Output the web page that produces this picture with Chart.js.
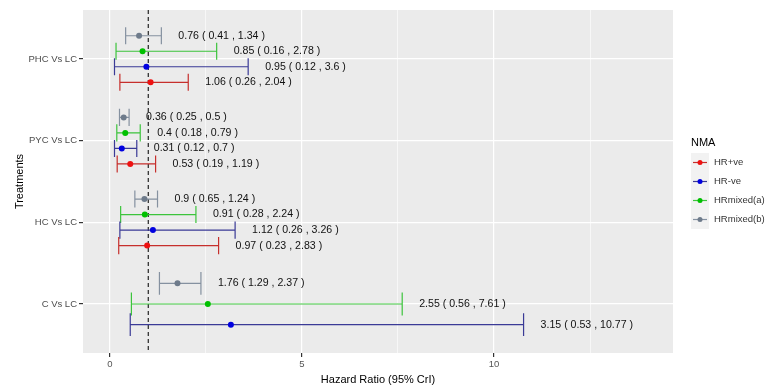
<!DOCTYPE html>
<html>
<head>
<meta charset="utf-8">
<script src="https://cdn.jsdelivr.net/npm/chart.js@4.4.1/dist/chart.umd.min.js"></script>
<style>
  html, body { margin: 0; padding: 0; background: #fff; }
  #wrap { width: 768px; height: 385px; position: relative; }
</style>
</head>
<body>
<div id="wrap"><canvas id="forest"></canvas></div>
<script>
// treatments, top to bottom
const categories = ['PHC Vs LC', 'PYC Vs LC', 'HC Vs LC', 'C Vs LC'];
const seriesNames = ['HR+ve', 'HR-ve', 'HRmixed(a)', 'HRmixed(b)'];

// hazard ratio with 95% CrI per treatment (null = not estimated)
const hrPosMean = [1.06, 0.53, 0.97, null];
const hrPosLow  = [0.26, 0.19, 0.23, null];
const hrPosHigh = [2.04, 1.19, 2.83, null];

const hrNegMean = [0.95, 0.31, 1.12, 3.15];
const hrNegLow  = [0.12, 0.12, 0.26, 0.53];
const hrNegHigh = [3.6, 0.7, 3.26, 10.77];

const mixedAMean = [0.85, 0.4, 0.91, 2.55];
const mixedALow  = [0.16, 0.18, 0.28, 0.56];
const mixedAHigh = [2.78, 0.79, 2.24, 7.61];

const mixedBMean = [0.76, 0.36, 0.9, 1.76];
const mixedBLow  = [0.41, 0.25, 0.65, 1.29];
const mixedBHigh = [1.34, 0.5, 1.24, 2.37];

const xTickLabels = [0, 5, 10];
const nullLine = 1;

const FONT = '"Liberation Sans", Arial, sans-serif';

const series = [
  { name: seriesNames[0], mean: hrPosMean, low: hrPosLow, high: hrPosHigh, line: '#c62f2c', dot: '#ee1111' },
  { name: seriesNames[1], mean: hrNegMean, low: hrNegLow, high: hrNegHigh, line: '#3a3a96', dot: '#0000e0' },
  { name: seriesNames[2], mean: mixedAMean, low: mixedALow, high: mixedAHigh, line: '#3cc43c', dot: '#00c000' },
  { name: seriesNames[3], mean: mixedBMean, low: mixedBLow, high: mixedBHigh, line: '#8591a0', dot: '#6e7b8b' },
];

// plotted top-down inside each group: mixed(b), mixed(a), -ve, +ve
const datasets = series.slice().reverse().map(s => ({
  label: s.name,
  data: categories.map((c, i) => ({ y: i, x: s.low[i] == null ? null : [s.low[i], s.high[i]] })),
  mean: s.mean,
  low: s.low,
  high: s.high,
  lineColor: s.line,
  dotColor: s.dot,
  backgroundColor: 'rgba(0,0,0,0)',
  borderWidth: 0,
  skipNull: true,
  categoryPercentage: 0.76,
  barPercentage: 1,
}));

// keep only ticks on a regular step inside the current range
function stepTicks(scale, step) {
  const out = [];
  for (let k = Math.ceil(scale.min / step); k * step <= scale.max + 1e-9; k++) {
    out.push({ value: k * step });
  }
  scale.ticks = out;
}

const forestPlugin = {
  id: 'forest',
  beforeDraw(chart) {
    const { ctx, chartArea: a } = chart;
    ctx.save();
    ctx.fillStyle = '#ebebeb';
    ctx.fillRect(a.left, a.top, a.right - a.left, a.bottom - a.top);
    ctx.restore();
  },
  beforeDatasetsDraw(chart) {
    const { ctx, chartArea: a, scales } = chart;
    const px = scales.x.getPixelForValue(nullLine);
    ctx.save();
    ctx.strokeStyle = '#333';
    ctx.lineWidth = 1.3;
    ctx.setLineDash([4, 3]);
    ctx.beginPath();
    ctx.moveTo(px, a.top);
    ctx.lineTo(px, a.bottom);
    ctx.stroke();
    ctx.restore();
  },
  afterDatasetsDraw(chart) {
    const { ctx, scales } = chart;
    const xs = scales.x;
    ctx.save();
    chart.data.datasets.forEach((ds, di) => {
      const meta = chart.getDatasetMeta(di);
      meta.data.forEach((el, i) => {
        if (ds.low[i] == null) return;
        const y = el.y;
        const cap = el.height * 1.1 / 2;
        const x1 = xs.getPixelForValue(ds.low[i]);
        const x2 = xs.getPixelForValue(ds.high[i]);
        const xm = xs.getPixelForValue(ds.mean[i]);
        ctx.strokeStyle = ds.lineColor;
        ctx.lineWidth = 1.2;
        ctx.setLineDash([]);
        ctx.beginPath();
        ctx.moveTo(x1, y); ctx.lineTo(x2, y);
        ctx.moveTo(x1, y - cap); ctx.lineTo(x1, y + cap);
        ctx.moveTo(x2, y - cap); ctx.lineTo(x2, y + cap);
        ctx.stroke();
        ctx.fillStyle = ds.dotColor;
        ctx.beginPath();
        ctx.arc(xm, y, 3, 0, Math.PI * 2);
        ctx.fill();
        ctx.fillStyle = '#111';
        ctx.font = '10.6px ' + FONT;
        ctx.textAlign = 'left';
        ctx.textBaseline = 'middle';
        ctx.fillText(ds.mean[i] + ' ( ' + ds.low[i] + ' , ' + ds.high[i] + ' )', x2 + 17, y);
      });
    });
    ctx.restore();
  },
  afterDraw(chart) {
    const { ctx } = chart;
    const left = 691, top = 153, key = 19;
    ctx.save();
    ctx.fillStyle = '#000';
    ctx.font = '11px ' + FONT;
    ctx.textAlign = 'left';
    ctx.textBaseline = 'middle';
    ctx.fillText('NMA', left, 143);
    ctx.fillStyle = '#f2f2f2';
    ctx.fillRect(left, top, 18, key * series.length);
    series.forEach((s, i) => {
      const cy = top + key * i + key / 2;
      ctx.strokeStyle = s.line;
      ctx.lineWidth = 1.2;
      ctx.beginPath();
      ctx.moveTo(left + 2, cy); ctx.lineTo(left + 16, cy);
      ctx.stroke();
      ctx.fillStyle = s.dot;
      ctx.beginPath();
      ctx.arc(left + 9, cy, 2.5, 0, Math.PI * 2);
      ctx.fill();
      ctx.fillStyle = '#333';
      ctx.font = '9.5px ' + FONT;
      ctx.fillText(s.name, left + 23, cy);
    });
    ctx.restore();
  }
};

new Chart(document.getElementById('forest'), {
  type: 'bar',
  data: { datasets },
  plugins: [forestPlugin],
  options: {
    indexAxis: 'y',
    responsive: true,
    maintainAspectRatio: false,
    animation: false,
    events: [],
    layout: { padding: { top: 10, right: 95, left: 0, bottom: 0 } },
    plugins: { legend: { display: false }, tooltip: { enabled: false } },
    scales: {
      x: {
        type: 'linear',
        min: -0.7,
        max: 14.66,
        offset: false,
        afterBuildTicks: s => stepTicks(s, 2.5),
        afterFit: s => { s.height = 32; },
        ticks: {
          autoSkip: false,
          maxRotation: 0,
          padding: 2,
          color: '#555',
          font: { family: FONT, size: 9.5 },
          callback: v => xTickLabels.includes(v) ? String(v) : '',
        },
        grid: {
          offset: false,
          color: '#ffffff',
          lineWidth: c => xTickLabels.includes(c.tick.value) ? 1.2 : 0.6,
          tickColor: c => xTickLabels.includes(c.tick.value) ? '#333' : 'rgba(0,0,0,0)',
          tickLength: 4,
        },
        border: { display: false },
        title: {
          display: true,
          text: 'Hazard Ratio (95% CrI)',
          color: '#000',
          font: { family: FONT, size: 11, lineHeight: 1 },
          padding: { top: 0, bottom: 0 },
        },
      },
      y: {
        type: 'linear',
        reverse: true,
        min: -0.6,
        max: 3.6,
        offset: false,
        afterBuildTicks: s => stepTicks(s, 1),
        afterFit: s => { s.width = 83; },
        ticks: {
          autoSkip: false,
          padding: 2,
          color: '#4d4d4d',
          font: { family: FONT, size: 9.5 },
          callback: v => categories[v],
        },
        grid: { offset: false, color: '#ffffff', lineWidth: 1.2, tickColor: '#333', tickLength: 4 },
        border: { display: false },
        title: {
          display: true,
          text: 'Treatments',
          color: '#000',
          font: { family: FONT, size: 11 },
          padding: { top: 13, bottom: 0 },
        },
      },
    },
  },
});
</script>
</body>
</html>
